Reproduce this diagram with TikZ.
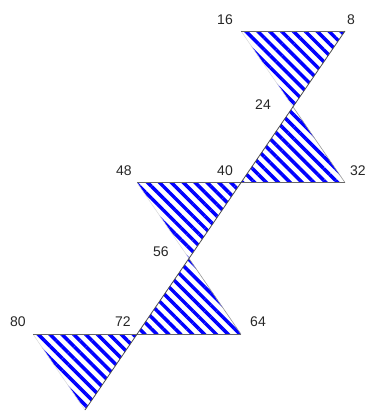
\documentclass[tikz,border=0pt]{standalone}
\usepackage{fontspec}
\setmainfont{Liberation Sans}
\usetikzlibrary{patterns.meta}
\begin{document}
\begin{tikzpicture}[x=1pt,y=-1pt,
  hatch/.style={pattern={Lines[angle=-45,distance=8.4pt,line width=3.5pt]},pattern color=blue},
  spine/.style={draw=black!70,line width=0.8pt},
  flat/.style={draw=black!60,line width=0.8pt},
  rim/.style={draw=black!40,line width=0.6pt},
  faint/.style={draw=black!15,line width=0.5pt},
  lbl/.style={font=\fontsize{14}{16}\selectfont,text=black!85,inner sep=0pt}]
\useasboundingbox (0,0) rectangle (369,415);
\coordinate (p8) at (345,31);
\coordinate (p16) at (241,31);
\coordinate (p24) at (293,106.8);
\coordinate (p32) at (345,182.6);
\coordinate (p40) at (241,182.6);
\coordinate (p48) at (137,182.6);
\coordinate (p56) at (189,258.4);
\coordinate (p64) at (241,334.2);
\coordinate (p72) at (137,334.2);
\coordinate (p80) at (33,334.2);
\coordinate (p88) at (85,410);
% hatched triangles
\fill[hatch] (p16) -- (p8) -- (p24) -- cycle;
\fill[hatch] (p24) -- (p32) -- (p40) -- cycle;
\fill[hatch] (p48) -- (p40) -- (p56) -- cycle;
\fill[hatch] (p56) -- (p64) -- (p72) -- cycle;
\fill[hatch] (p80) -- (p72) -- (p88) -- cycle;
% outer edges
\draw[faint] (p16) -- (p24);
\draw[faint] (p48) -- (p56);
\draw[faint] (p80) -- (p88);
\draw[rim] (p24) -- (p32);
\draw[rim] (p56) -- (p64);
\draw[flat] (p16) -- (p8);
\draw[flat] (p48) -- (p32);
\draw[flat] (p80) -- (p64);
% spine
\draw[spine] (p8) -- (p24) -- (p40) -- (p56) -- (p72) -- (p88);
% labels
\node[lbl] (l16) at (225,20) {16};
\node[lbl] (l8) at (351,20) {8};
\node[lbl] (l24) at (263,105) {24};
\node[lbl] (l40) at (225,171) {40};
\node[lbl,anchor=west] (l32) at (350,171) {32};
\node[lbl] (l48) at (124,171) {48};
\node[lbl] (l56) at (161,252) {56};
\node[lbl] (l72) at (123,322) {72};
\node[lbl] (l64) at (258,322) {64};
\node[lbl] (l80) at (18,322) {80};
\end{tikzpicture}
\end{document}
